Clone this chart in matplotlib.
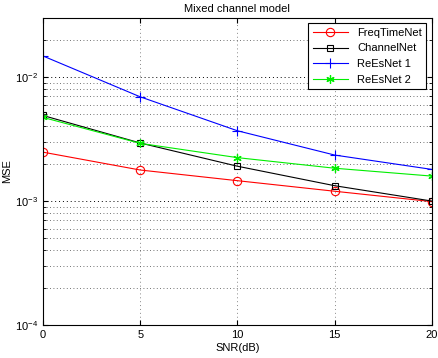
import numpy as np
import matplotlib.pyplot as plt
from matplotlib.ticker import LogLocator, NullFormatter

snr = [0, 5, 10, 15, 20]
freqtimenet = [2.48e-3, 1.78e-3, 1.46e-3, 1.2e-3, 0.99e-3]
channelnet = [4.9e-3, 2.94e-3, 1.91e-3, 1.33e-3, 1.0e-3]
reesnet1 = [1.48e-2, 6.93e-3, 3.69e-3, 2.35e-3, 1.80e-3]
reesnet2 = [4.73e-3, 2.92e-3, 2.24e-3, 1.84e-3, 1.59e-3]

plt.rcParams['font.family'] = 'Liberation Sans'
fig = plt.figure(figsize=(4.38, 3.58), dpi=100)
ax = fig.add_axes([0.098, 0.092, 0.888, 0.858])

ax.semilogy(snr, freqtimenet, '-o', color='red', lw=0.8, ms=6, mfc='none', mew=0.8, label='FreqTimeNet')
ax.semilogy(snr, channelnet, '-s', color='black', lw=0.8, ms=5, mfc='none', mew=0.8, label='ChannelNet')
ax.semilogy(snr, reesnet1, '-+', color='blue', lw=0.8, ms=7, mew=0.8, label='ReEsNet 1')
ax.semilogy(snr, reesnet2, '-', marker=(6, 2, 0), color='#00ee00', lw=0.8, ms=6, mew=0.9, label='ReEsNet 2')

ax.set_xlim(0, 20)
ax.set_ylim(1e-4, 3e-2)
ax.set_xticks([0, 5, 10, 15, 20])
ax.yaxis.set_major_locator(LogLocator(base=10, numticks=10))
ax.yaxis.set_minor_locator(LogLocator(base=10, subs=np.arange(2, 10), numticks=10))
ax.yaxis.set_minor_formatter(NullFormatter())

ax.grid(True, which='major', axis='y', ls=(0, (1, 3)), color='black', lw=0.7)
ax.grid(True, which='major', axis='x', ls=(0, (1, 3)), color='#888888', lw=0.7)
ax.grid(True, which='minor', axis='y', ls=(0, (1, 3)), color='#444444', lw=0.6)
ax.tick_params(which='both', direction='in', top=True, right=True, labelsize=8)
for s in ax.spines.values():
    s.set_linewidth(0.8)

ax.set_title('Mixed channel model', fontsize=8, pad=4)
ax.set_xlabel('SNR(dB)', fontsize=8, labelpad=2)
ax.set_ylabel('MSE', fontsize=8, labelpad=2)

leg = ax.legend(loc='upper right', fontsize=8, fancybox=False, framealpha=1,
                edgecolor='black', handlelength=3.2, borderaxespad=0.5)
leg.get_frame().set_linewidth(0.8)

plt.savefig('out.png', dpi=100)
